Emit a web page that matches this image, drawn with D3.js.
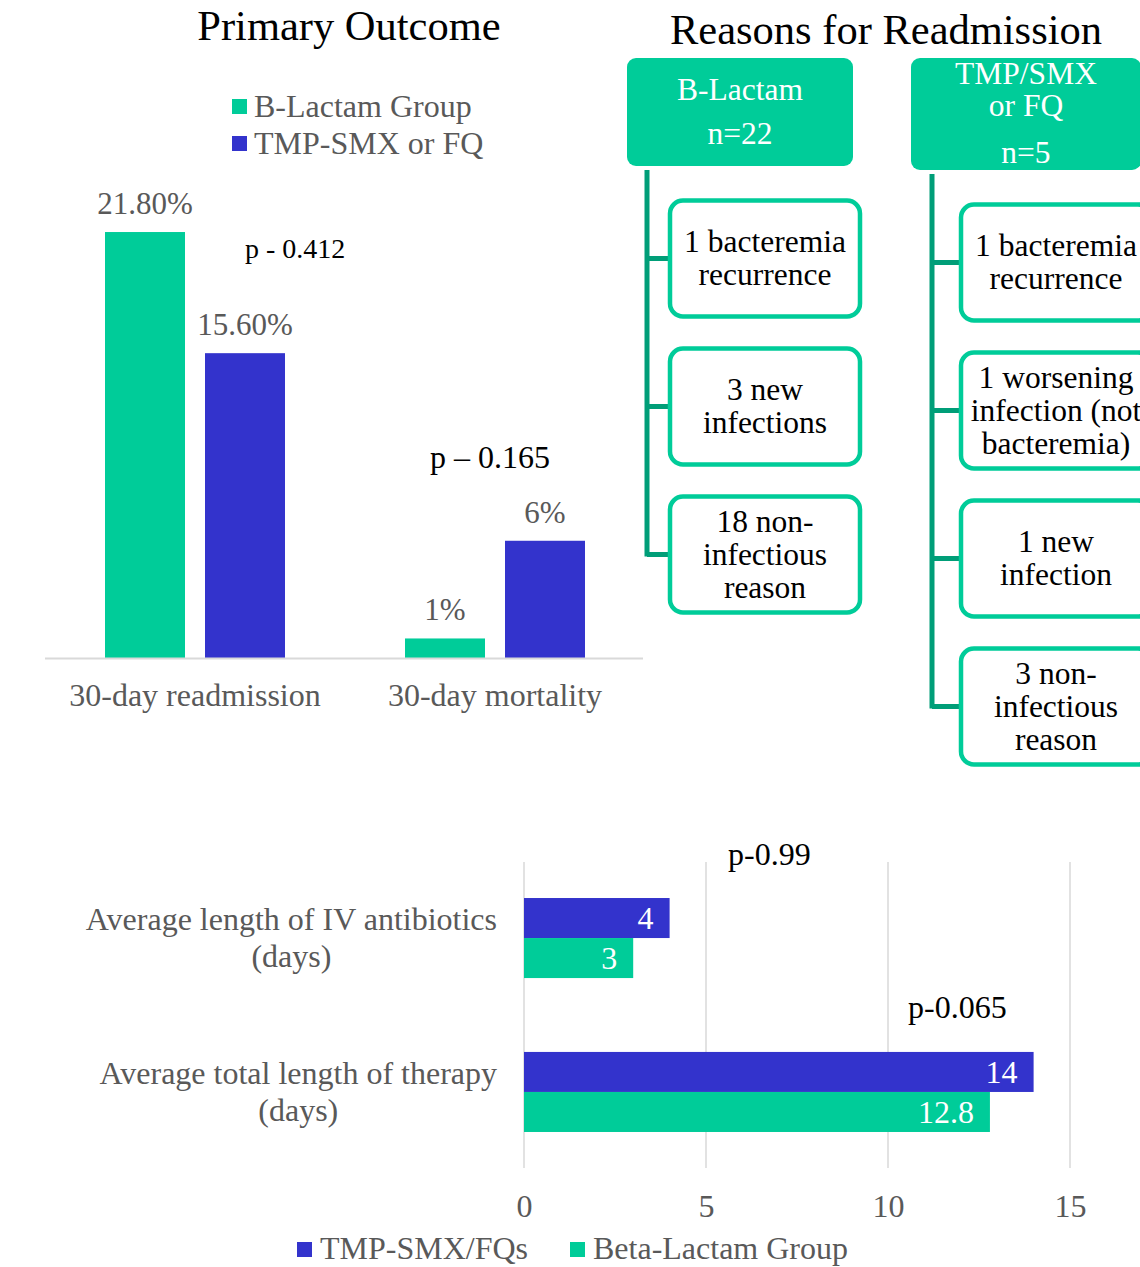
<!DOCTYPE html>
<html><head><meta charset="utf-8">
<script src="https://cdn.jsdelivr.net/npm/d3@7"></script>
<style>
html,body{margin:0;padding:0;background:#fff;}
svg text{font-family:"Liberation Serif","Times New Roman",serif;}
</style></head>
<body><svg id="c" width="1140" height="1267"></svg>
<script>
// ---------- data ----------
const outcomeCategories = ["30-day readmission", "30-day mortality"];
const outcomeSeries = ["B-Lactam Group", "TMP-SMX or FQ"];
const bLactamOutcome = [21.8, 1];
const tmpOutcome = [15.6, 6];
const outcomeLabelsB = ["21.80%", "1%"];
const outcomeLabelsT = ["15.60%", "6%"];
const outcomePvals = ["p - 0.412", "p \u2013 0.165"];

const treeHeaders = [["B-Lactam", "n=22"], ["TMP/SMX", "or FQ", "n=5"]];
const treeBLactam = [["1 bacteremia", "recurrence"], ["3 new", "infections"], ["18 non-", "infectious", "reason"]];
const treeTmp = [["1 bacteremia", "recurrence"], ["1 worsening", "infection (not", "bacteremia)"], ["1 new", "infection"], ["3 non-", "infectious", "reason"]];

const durationCategories = ["Average length of IV antibiotics|(days)", "Average total length of therapy|(days)"];
const durationSeries = ["TMP-SMX/FQs", "Beta-Lactam Group"];
const tmpDuration = [4, 14];
const bLactamDuration = [3, 12.8];
const durationPvals = ["p-0.99", "p-0.065"];
const durationTicks = [0, 5, 10, 15];

// ---------- style ----------
const GREEN = "#00CC99", BLUE = "#3333CC", GREY = "#595959", DARK = "#009E78";
const FS = 32, TFS = 31.5;
const svg = d3.select("#c");

// ---------- Primary outcome ----------
svg.append("text").attr("x", 349).attr("y", 40).attr("text-anchor", "middle")
  .attr("font-size", 42.5).attr("fill", "#000").text("Primary Outcome");

const legTop = svg.append("g");
outcomeSeries.forEach((s, i) => {
  legTop.append("rect").attr("x", 232).attr("y", 99 + i * 37).attr("width", 15).attr("height", 15)
    .attr("fill", i === 0 ? GREEN : BLUE);
  legTop.append("text").attr("x", 254).attr("y", 117 + i * 37).attr("font-size", FS).attr("fill", GREY).text(s);
});

const x0 = d3.scaleBand().domain(outcomeCategories).range([45, 645]);
const x1 = d3.scaleBand().domain(outcomeSeries).range([60, 240]).paddingInner(0.2);
const y = d3.scaleLinear().domain([0, 25]).range([658, 169.5]);
const outcomeRows = outcomeCategories.map((c, i) => ({
  cat: c,
  vals: [{s: outcomeSeries[0], v: bLactamOutcome[i], l: outcomeLabelsB[i]}, {s: outcomeSeries[1], v: tmpOutcome[i], l: outcomeLabelsT[i]}]
}));
const og = svg.append("g").selectAll("g").data(outcomeRows).join("g")
  .attr("transform", d => `translate(${x0(d.cat)},0)`);
og.selectAll("rect").data(d => d.vals).join("rect")
  .attr("x", d => x1(d.s)).attr("width", x1.bandwidth())
  .attr("y", d => y(d.v)).attr("height", d => y(0) - y(d.v))
  .attr("fill", (d, i) => i === 0 ? GREEN : BLUE);
og.selectAll("text.v").data(d => d.vals).join("text").attr("class", "v")
  .attr("x", d => x1(d.s) + x1.bandwidth() / 2).attr("y", d => y(d.v) - 18)
  .attr("text-anchor", "middle").attr("font-size", 31).attr("fill", GREY).text(d => d.l);
svg.append("line").attr("x1", 45).attr("x2", 643).attr("y1", 658.5).attr("y2", 658.5)
  .attr("stroke", "#d9d9d9").attr("stroke-width", 2);
const xAxisTop = svg.append("g").attr("transform", "translate(0,658)")
  .call(d3.axisBottom(x0).tickSize(0).tickPadding(0));
xAxisTop.select(".domain").remove();
xAxisTop.selectAll("text").attr("dy", 0).attr("y", 48).attr("font-size", FS).attr("fill", GREY)
  .attr("font-family", "Liberation Serif");
// p values
svg.append("text").attr("x", 245).attr("y", 258).attr("font-size", 28).attr("fill", "#000").text(outcomePvals[0]);
svg.append("text").attr("x", 430).attr("y", 468).attr("font-size", FS).attr("fill", "#000").text(outcomePvals[1]);

// ---------- Reasons for readmission ----------
svg.append("text").attr("x", 886).attr("y", 44).attr("text-anchor", "middle")
  .attr("font-size", 42.5).attr("fill", "#000").text("Reasons for Readmission");

function drawTree(cfg) {
  const g = svg.append("g");
  g.append("rect").attr("x", cfg.hx).attr("y", 58).attr("width", cfg.hw).attr("height", cfg.hh)
    .attr("rx", 9).attr("fill", GREEN);
  cfg.header.forEach((t, i) => {
    g.append("text").attr("x", cfg.hx + cfg.hw / 2).attr("y", cfg.hBase[i]).attr("text-anchor", "middle")
      .attr("font-size", TFS).attr("fill", "#fff").text(t);
  });
  const centers = cfg.items.map((d, i) => cfg.top + i * 148 + 59.5);
  g.append("line").attr("x1", cfg.lx).attr("x2", cfg.lx).attr("y1", 58 + cfg.hh + 4).attr("y2", centers[centers.length - 1] + 2)
    .attr("stroke", DARK).attr("stroke-width", 5);
  cfg.items.forEach((lines, i) => {
    const cy = centers[i];
    g.append("line").attr("x1", cfg.lx).attr("x2", cfg.bx).attr("y1", cy).attr("y2", cy)
      .attr("stroke", DARK).attr("stroke-width", 5);
    g.append("rect").attr("x", cfg.bx).attr("y", cy - 58).attr("width", 190).attr("height", 116)
      .attr("rx", 13).attr("fill", "#fff").attr("stroke", GREEN).attr("stroke-width", 4.5);
    lines.forEach((t, j) => {
      g.append("text").attr("x", cfg.bx + 95).attr("y", cy - (lines.length - 1) * 16.5 + 10 + j * 33)
        .attr("text-anchor", "middle").attr("font-size", TFS).attr("fill", "#000").text(t);
    });
  });
}
drawTree({hx: 627, hw: 226, hh: 108, header: treeHeaders[0], hBase: [100, 144], lx: 647, bx: 670, top: 199, items: treeBLactam});
drawTree({hx: 911, hw: 230, hh: 112, header: treeHeaders[1], hBase: [84, 116, 163], lx: 932, bx: 961, top: 203, items: treeTmp});

// ---------- Duration bars ----------
const xd = d3.scaleLinear().domain([0, 15]).range([524, 1070]);
const yd = d3.scaleBand().domain(durationCategories).range([862, 1168]).paddingInner(0.48).paddingOuter(0.234);
const ys = d3.scaleBand().domain(durationSeries).range([0, yd.bandwidth()]);
svg.append("g").selectAll("line").data(durationTicks).join("line")
  .attr("x1", d => xd(d)).attr("x2", d => xd(d)).attr("y1", 862).attr("y2", 1168)
  .attr("stroke", "#d9d9d9").attr("stroke-width", 1.5);
const xAxisB = svg.append("g").attr("transform", "translate(0,1168)")
  .call(d3.axisBottom(xd).tickValues(durationTicks).tickSize(0).tickPadding(0).tickFormat(d3.format("d")));
xAxisB.select(".domain").remove();
xAxisB.selectAll("text").attr("dy", 0).attr("y", 49).attr("font-size", FS).attr("fill", GREY)
  .attr("font-family", "Liberation Serif");

const durRows = durationCategories.map((c, i) => ({
  cat: c,
  vals: [{s: durationSeries[0], v: tmpDuration[i]}, {s: durationSeries[1], v: bLactamDuration[i]}]
}));
const dg = svg.append("g").selectAll("g").data(durRows).join("g")
  .attr("transform", d => `translate(0,${yd(d.cat)})`);
dg.selectAll("rect").data(d => d.vals).join("rect")
  .attr("x", xd(0)).attr("y", d => ys(d.s)).attr("height", ys.bandwidth())
  .attr("width", d => xd(d.v) - xd(0)).attr("fill", (d, i) => i === 0 ? BLUE : GREEN);
dg.selectAll("text.v").data(d => d.vals).join("text").attr("class", "v")
  .attr("x", d => xd(d.v) - 16).attr("y", d => ys(d.s) + ys.bandwidth() / 2 + 11)
  .attr("text-anchor", "end").attr("font-size", FS).attr("fill", "#fff").text(d => d.v);
durationCategories.forEach(c => {
  const [l1, l2] = c.split("|");
  const cy = yd(c) + yd.bandwidth() / 2;
  const t1 = svg.append("text").attr("x", 497).attr("y", cy - 8).attr("text-anchor", "end")
    .attr("font-size", FS).attr("fill", GREY).text(l1);
  const w = t1.node().getComputedTextLength();
  svg.append("text").attr("x", 497 - w / 2).attr("y", cy + 29).attr("text-anchor", "middle")
    .attr("font-size", FS).attr("fill", GREY).text(l2);
});
svg.append("text").attr("x", 728).attr("y", 865).attr("font-size", FS).attr("fill", "#000").text(durationPvals[0]);
svg.append("text").attr("x", 908).attr("y", 1018).attr("font-size", FS).attr("fill", "#000").text(durationPvals[1]);

const legB = svg.append("g");
let lx = 297;
durationSeries.forEach((s, i) => {
  legB.append("rect").attr("x", lx).attr("y", 1242).attr("width", 15).attr("height", 15).attr("fill", i === 0 ? BLUE : GREEN);
  legB.append("text").attr("x", lx + 23).attr("y", 1259).attr("font-size", FS).attr("fill", GREY).text(s);
  lx = 570;
});
</script></body></html>
